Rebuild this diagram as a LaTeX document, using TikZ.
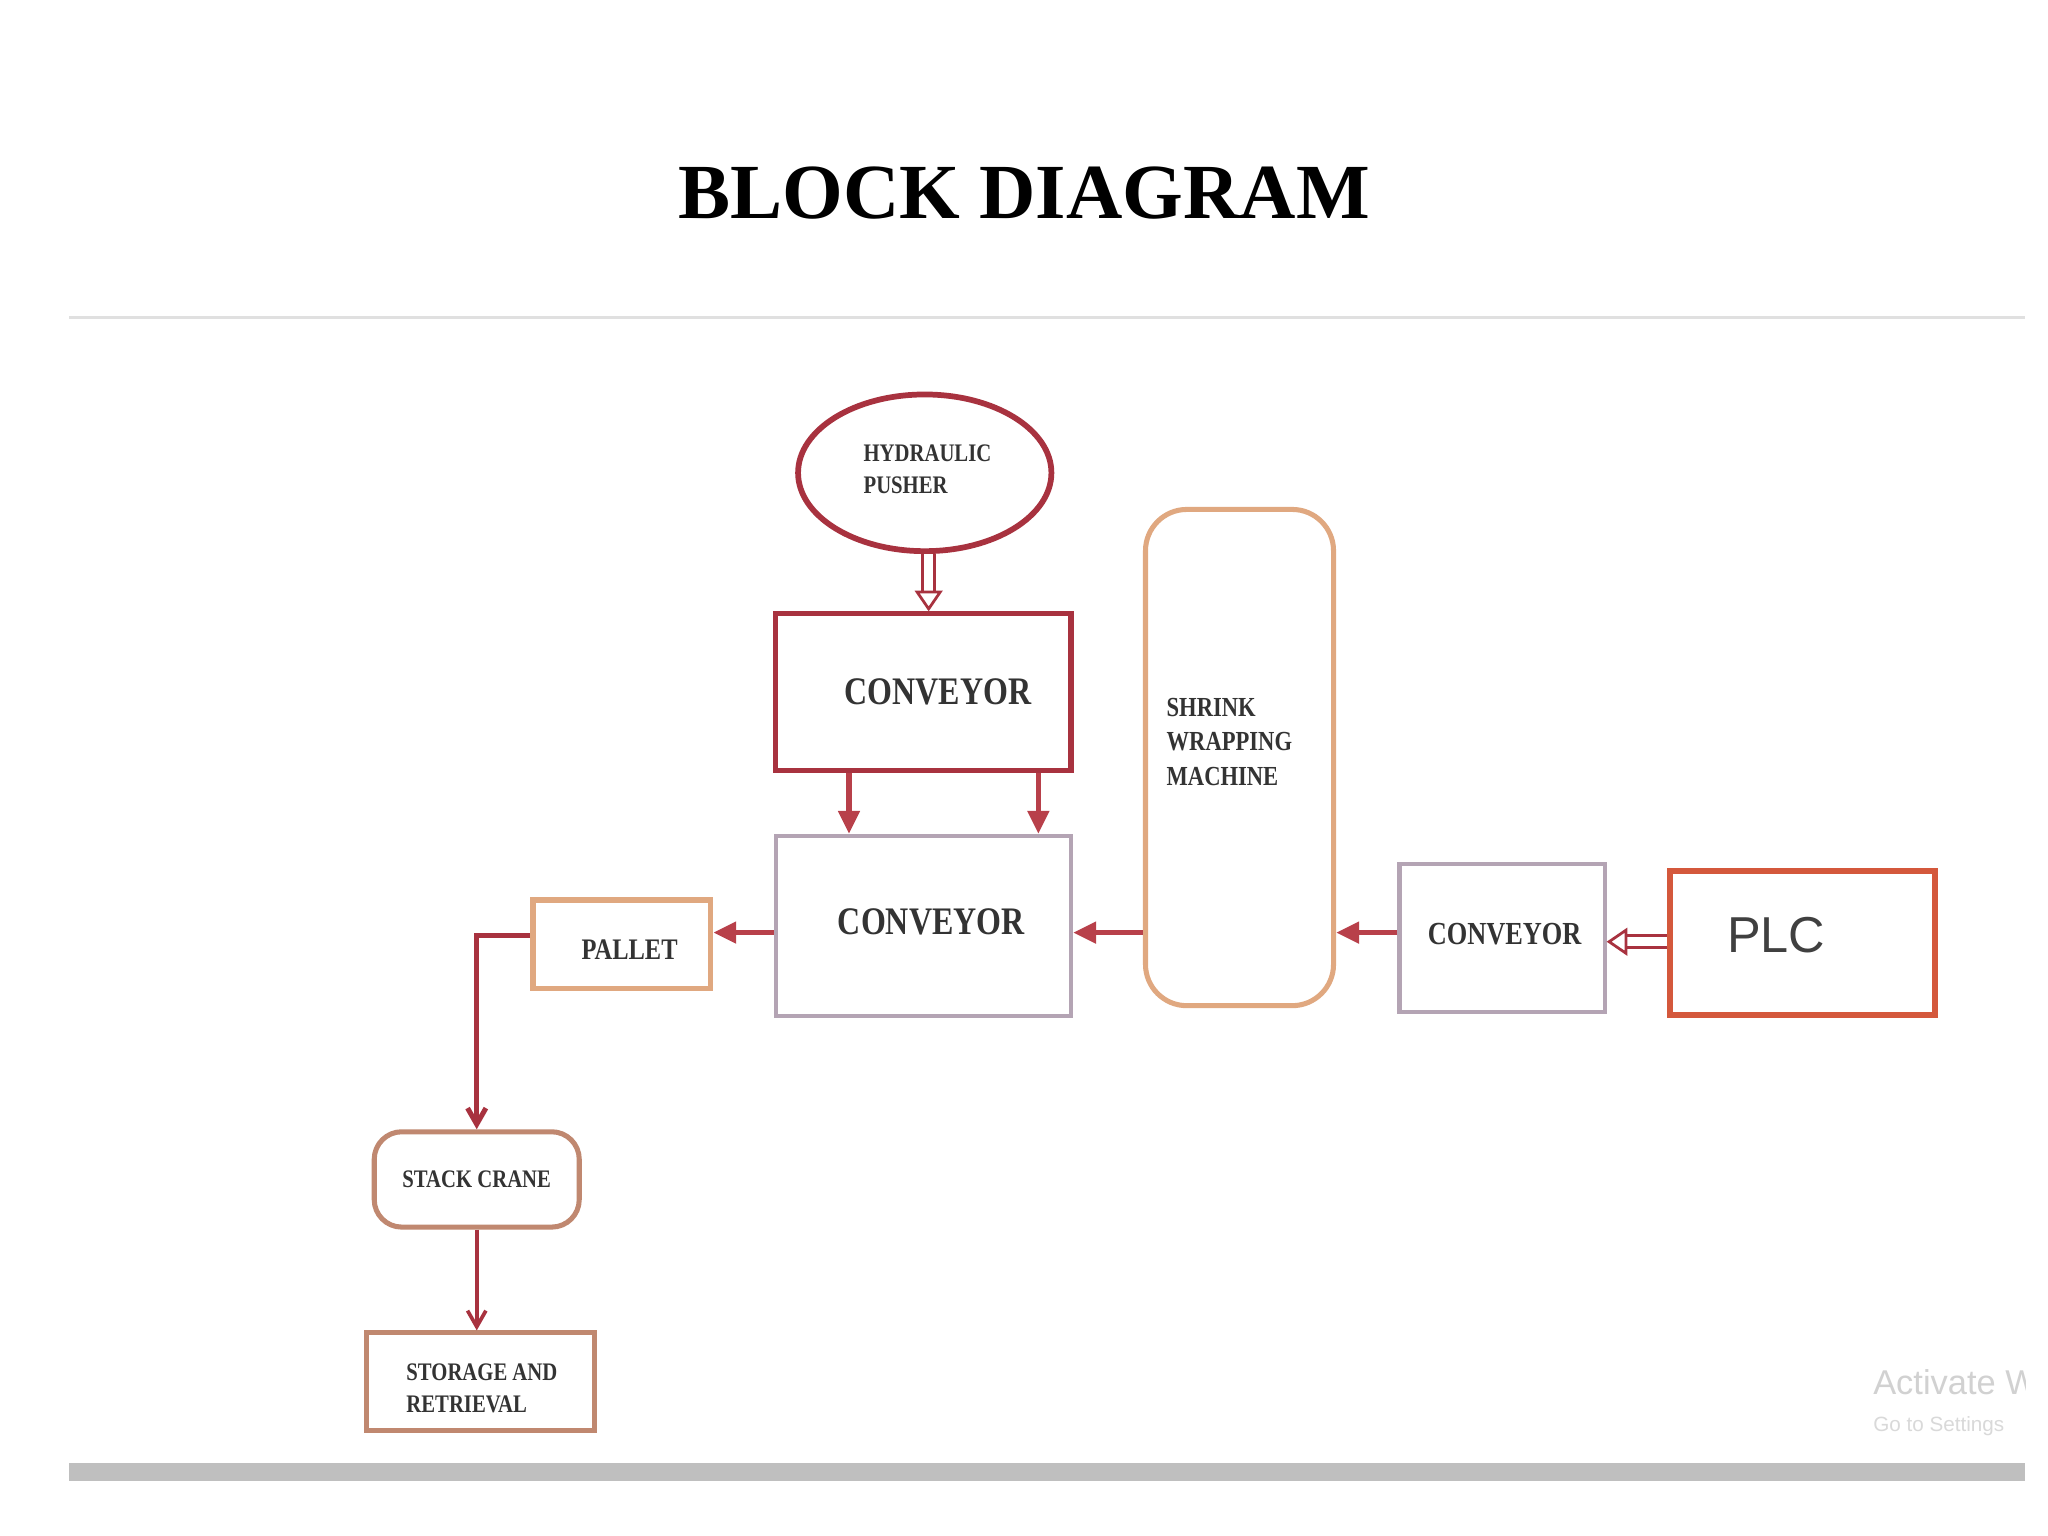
\documentclass[tikz,border=0pt]{standalone}
\usepackage{fontspec}
\setmainfont{Liberation Serif}
\newfontfamily\sansf{Liberation Sans}
\newfontfamily\cond{Liberation Serif}[FakeStretch=0.82]
\usetikzlibrary{shapes.geometric,arrows.meta}
\definecolor{dred}{HTML}{A8323F}
\definecolor{mred}{HTML}{B8404A}
\definecolor{gpur}{HTML}{B4A4B4}
\definecolor{orng}{HTML}{E0A880}
\definecolor{plcc}{HTML}{D4583C}
\definecolor{brn}{HTML}{C08870}
\begin{document}
\begin{tikzpicture}[x=0.02cm,y=-0.02cm,
 box/.style={draw,line width=2.2pt,inner sep=0pt},
 lbl/.style={font=\cond\bfseries\fontsize{17}{20}\selectfont,text=black!80},
 sl/.style={font=\cond\bfseries\fontsize{12}{15}\selectfont,text=black!80,align=left},
 arr/.style={-{Triangle[length=10pt,width=9pt]},line width=2.4pt,mred},
 thin/.style={-{Straight Barb[length=7pt,width=8pt]},line width=1.6pt,dred},
 hol/.style={-{Triangle[open,length=9pt,width=12pt]},double=white,double distance=4pt,line width=1.2pt,draw=dred}]
\useasboundingbox (0,0) rectangle (1568,1176);
\fill[white] (0,0) rectangle (1568,1176);
\node[font=\bfseries\fontsize{34}{40}\selectfont] (title) at (784,148) {BLOCK DIAGRAM};
\draw[black!12,line width=1.5pt] (53,243) -- (1550,243);
\fill[black!25] (53,1120) rectangle (1550,1134);
% nodes
\node[ellipse,draw=dred,line width=2.5pt,minimum width=3.88cm,minimum height=2.4cm,inner sep=0pt] (hp) at (708,362) {};
\node[sl,anchor=west,font=\cond\bfseries\fontsize{11}{14}\selectfont] (hpt) at (655,359) {HYDRAULIC\\PUSHER};
\node[box,draw=dred,minimum width=4.52cm,minimum height=2.4cm] (c1) at (707,530) {};
\node[lbl] at (718,530) {CONVEYOR};
\node[box,draw=gpur,line width=1.8pt,minimum width=4.52cm,minimum height=2.76cm] (c2) at (707,709) {};
\node[lbl] at (713,706) {CONVEYOR};
\node[box,draw=orng,rounded corners=18pt,minimum width=2.88cm,minimum height=7.6cm] (sw) at (949,580) {};
\node[sl,anchor=west] at (887,568) {SHRINK\\WRAPPING\\MACHINE};
\node[box,draw=gpur,line width=1.8pt,minimum width=3.14cm,minimum height=2.26cm] (c3) at (1150,718) {};
\node[lbl,font=\cond\bfseries\fontsize{14}{16}\selectfont] at (1152,715) {CONVEYOR};
\node[box,draw=plcc,line width=2.8pt,minimum width=4.06cm,minimum height=2.2cm] (plc) at (1380,722) {};
\node[font=\sansf\fontsize{22}{24}\selectfont,text=black!75] at (1360,716) {PLC};
\node[box,draw=orng,line width=2.4pt,minimum width=2.72cm,minimum height=1.36cm] (pal) at (476,723) {};
\node[sl,font=\cond\bfseries\fontsize{13}{15}\selectfont] at (482,727) {PALLET};
\node[box,draw=brn,rounded corners=12pt,minimum width=3.14cm,minimum height=1.46cm] (sc) at (365,903) {};
\node[sl,font=\cond\bfseries\fontsize{11}{13}\selectfont] at (365,903) {STACK CRANE};
\node[box,draw=brn,minimum width=3.5cm,minimum height=1.5cm] (st) at (368,1058) {};
\node[sl,font=\cond\bfseries\fontsize{11}{14}\selectfont,anchor=west] at (305,1063) {STORAGE AND\\RETRIEVAL};
\node[font=\sansf\fontsize{15}{17}\selectfont,text=black!18,anchor=west] at (1428,1058) {Activate W};
\node[font=\sansf\fontsize{9}{10}\selectfont,text=black!15,anchor=west] at (1428,1092) {Go to Settings};
\fill[white] (1551,1030) rectangle (1568,1110);
% connectors
\draw[hol] (hp.south -| 711,0) -- (c1.north -| 711,0);
\draw[arr] (c1.south -| 650,0) -- (c2.north -| 650,0);
\draw[arr] (c1.south -| 795,0) -- (c2.north -| 795,0);
\draw[arr] (c3.west |- 0,714) -- (sw.east |- 0,714);
\draw[arr] (sw.west |- 0,714) -- (c2.east |- 0,714);
\draw[arr] (c2.west |- 0,714) -- (pal.east |- 0,714);
\draw[hol] (plc.west |- 0,721) -- (c3.east |- 0,721);
\draw[thin,line width=2.2pt] (pal.west |- 0,716) -| (sc.north);
\draw[thin] (sc.south) -- (sc.south |- st.north);
\end{tikzpicture}
\end{document}
